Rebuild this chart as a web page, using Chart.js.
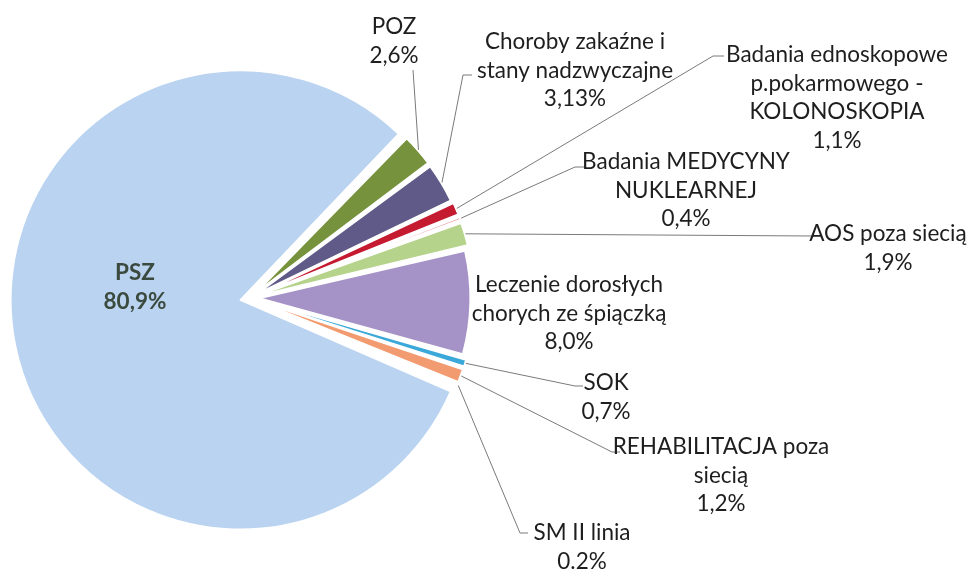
<!DOCTYPE html>
<html>
<head>
<meta charset="utf-8">
<script src="https://cdn.jsdelivr.net/npm/chart.js@4.4.1/dist/chart.umd.min.js"></script>
<style>
    html, body { margin: 0; padding: 0; background: #fff; }
    #wrap { width: 969px; height: 569px; position: relative; }
</style>
</head>
<body>
<div id="wrap"><canvas id="chart-pie"></canvas></div>
<script>
// dane
var kategorie = ["POZ", "Choroby zakaźne i stany nadzwyczajne", "Badania ednoskopowe p.pokarmowego - KOLONOSKOPIA",
    "Badania MEDYCYNY NUKLEARNEJ", "AOS poza siecią", "Leczenie dorosłych chorych ze śpiączką",
    "SOK", "REHABILITACJA poza siecią", "SM II linia", "PSZ"];
var udzial = [2.6, 3.13, 1.1, 0.4, 1.9, 8.0, 0.7, 1.2, 0.2, 80.9];
var procentTekst = ["2,6%", "3,13%", "1,1%", "0,4%", "1,9%", "8,0%", "0,7%", "1,2%", "0.2%", "80,9%"];
var linieEtykiet = [
    ["POZ"],
    ["Choroby zakaźne i", "stany nadzwyczajne"],
    ["Badania ednoskopowe", "p.pokarmowego -", "KOLONOSKOPIA"],
    ["Badania MEDYCYNY", "NUKLEARNEJ"],
    ["AOS poza siecią"],
    ["Leczenie dorosłych", "chorych ze śpiączką"],
    ["SOK"],
    ["REHABILITACJA poza", "siecią"],
    ["SM II linia"],
    ["PSZ"]
];
var kolory = ["#77923d", "#5f5a87", "#c51b30", "#e9a3a6", "#b6d38b", "#a592c6", "#3aa8d8", "#f39b70", "#c9dbf0", "#bad3f0"];

// rozmieszczenie etykiet (srodek x, y pierwszej linii) i linie odniesienia
var pozycjeEtykiet = [
    { x: 394, y: 27, lead: [[413, 70]] },
    { x: 575, y: 42, lead: [[463, 75], [472, 75]] },
    { x: 837, y: 55, lead: [[713, 56], [724, 56]] },
    { x: 686, y: 162, lead: [[575, 167], [586, 167]] },
    { x: 888, y: 234, lead: [[812, 236]] },
    { x: 569, y: 285, lead: null },
    { x: 606, y: 383, lead: [[575, 386], [583, 386]] },
    { x: 721, y: 447, lead: [[612, 452], [620, 452]] },
    { x: 582, y: 533, lead: [[520, 533], [528, 533]] },
    { x: 135, y: 273, lead: null }
];
var ODSTEP = 28.5;
var PSZ = 9;

var pluginEtykiety = {
    id: 'etykiety',
    afterDatasetsUpdate: function (chart) {
        // PSZ jest w oryginale troche wiekszy
        var arc = chart.getDatasetMeta(0).data[PSZ];
        arc.outerRadius = arc.outerRadius * 1.07;
    },
    afterDatasetsDraw: function (chart) {
        var ctx = chart.ctx;
        var meta = chart.getDatasetMeta(0);
        ctx.save();
        meta.data.forEach(function (arc, i) {
            var p = pozycjeEtykiet[i];
            var off = (arc.options.offset || 0) / 4;
            var fix = 1 - Math.sin(Math.min(Math.PI, arc.circumference));
            var mid = (arc.startAngle + arc.endAngle) / 2;
            var cx = arc.x + Math.cos(mid) * off * (1 + fix);
            var cy = arc.y + Math.sin(mid) * off * (1 + fix);
            if (p.lead) {
                var r = arc.outerRadius + 1;
                ctx.beginPath();
                ctx.moveTo(cx + Math.cos(mid) * r, cy + Math.sin(mid) * r);
                p.lead.forEach(function (pt) { ctx.lineTo(pt[0], pt[1]); });
                ctx.strokeStyle = '#7a7a7a';
                ctx.lineWidth = 1;
                ctx.stroke();
            }
            var linie = linieEtykiet[i].concat([procentTekst[i]]);
            ctx.font = (i === PSZ ? 'bold ' : '') + '22.5px Lato';
            ctx.fillStyle = i === PSZ ? '#3b4a3e' : '#1e1e1e';
            ctx.textAlign = 'center';
            ctx.textBaseline = 'middle';
            linie.forEach(function (t, k) {
                ctx.fillText(t, p.x, p.y + k * ODSTEP);
            });
        });
        ctx.restore();
    }
};

var ctx_pie = document.getElementById('chart-pie').getContext('2d');
var myPie = new Chart(ctx_pie, {
    type: 'pie',
    data: {
        labels: kategorie,
        datasets: [{
            data: udzial,
            backgroundColor: kolory,
            borderColor: '#ffffff',
            borderWidth: 1.5,
            offset: 40
        }]
    },
    options: {
        responsive: true,
        maintainAspectRatio: false,
        animation: false,
        rotation: 44,
        radius: 205,
        layout: { padding: { left: 0, right: 469, top: 27, bottom: 0 } },
        plugins: {
            legend: { display: false },
            tooltip: { enabled: false }
        }
    },
    plugins: [pluginEtykiety]
});
</script>
</body>
</html>
